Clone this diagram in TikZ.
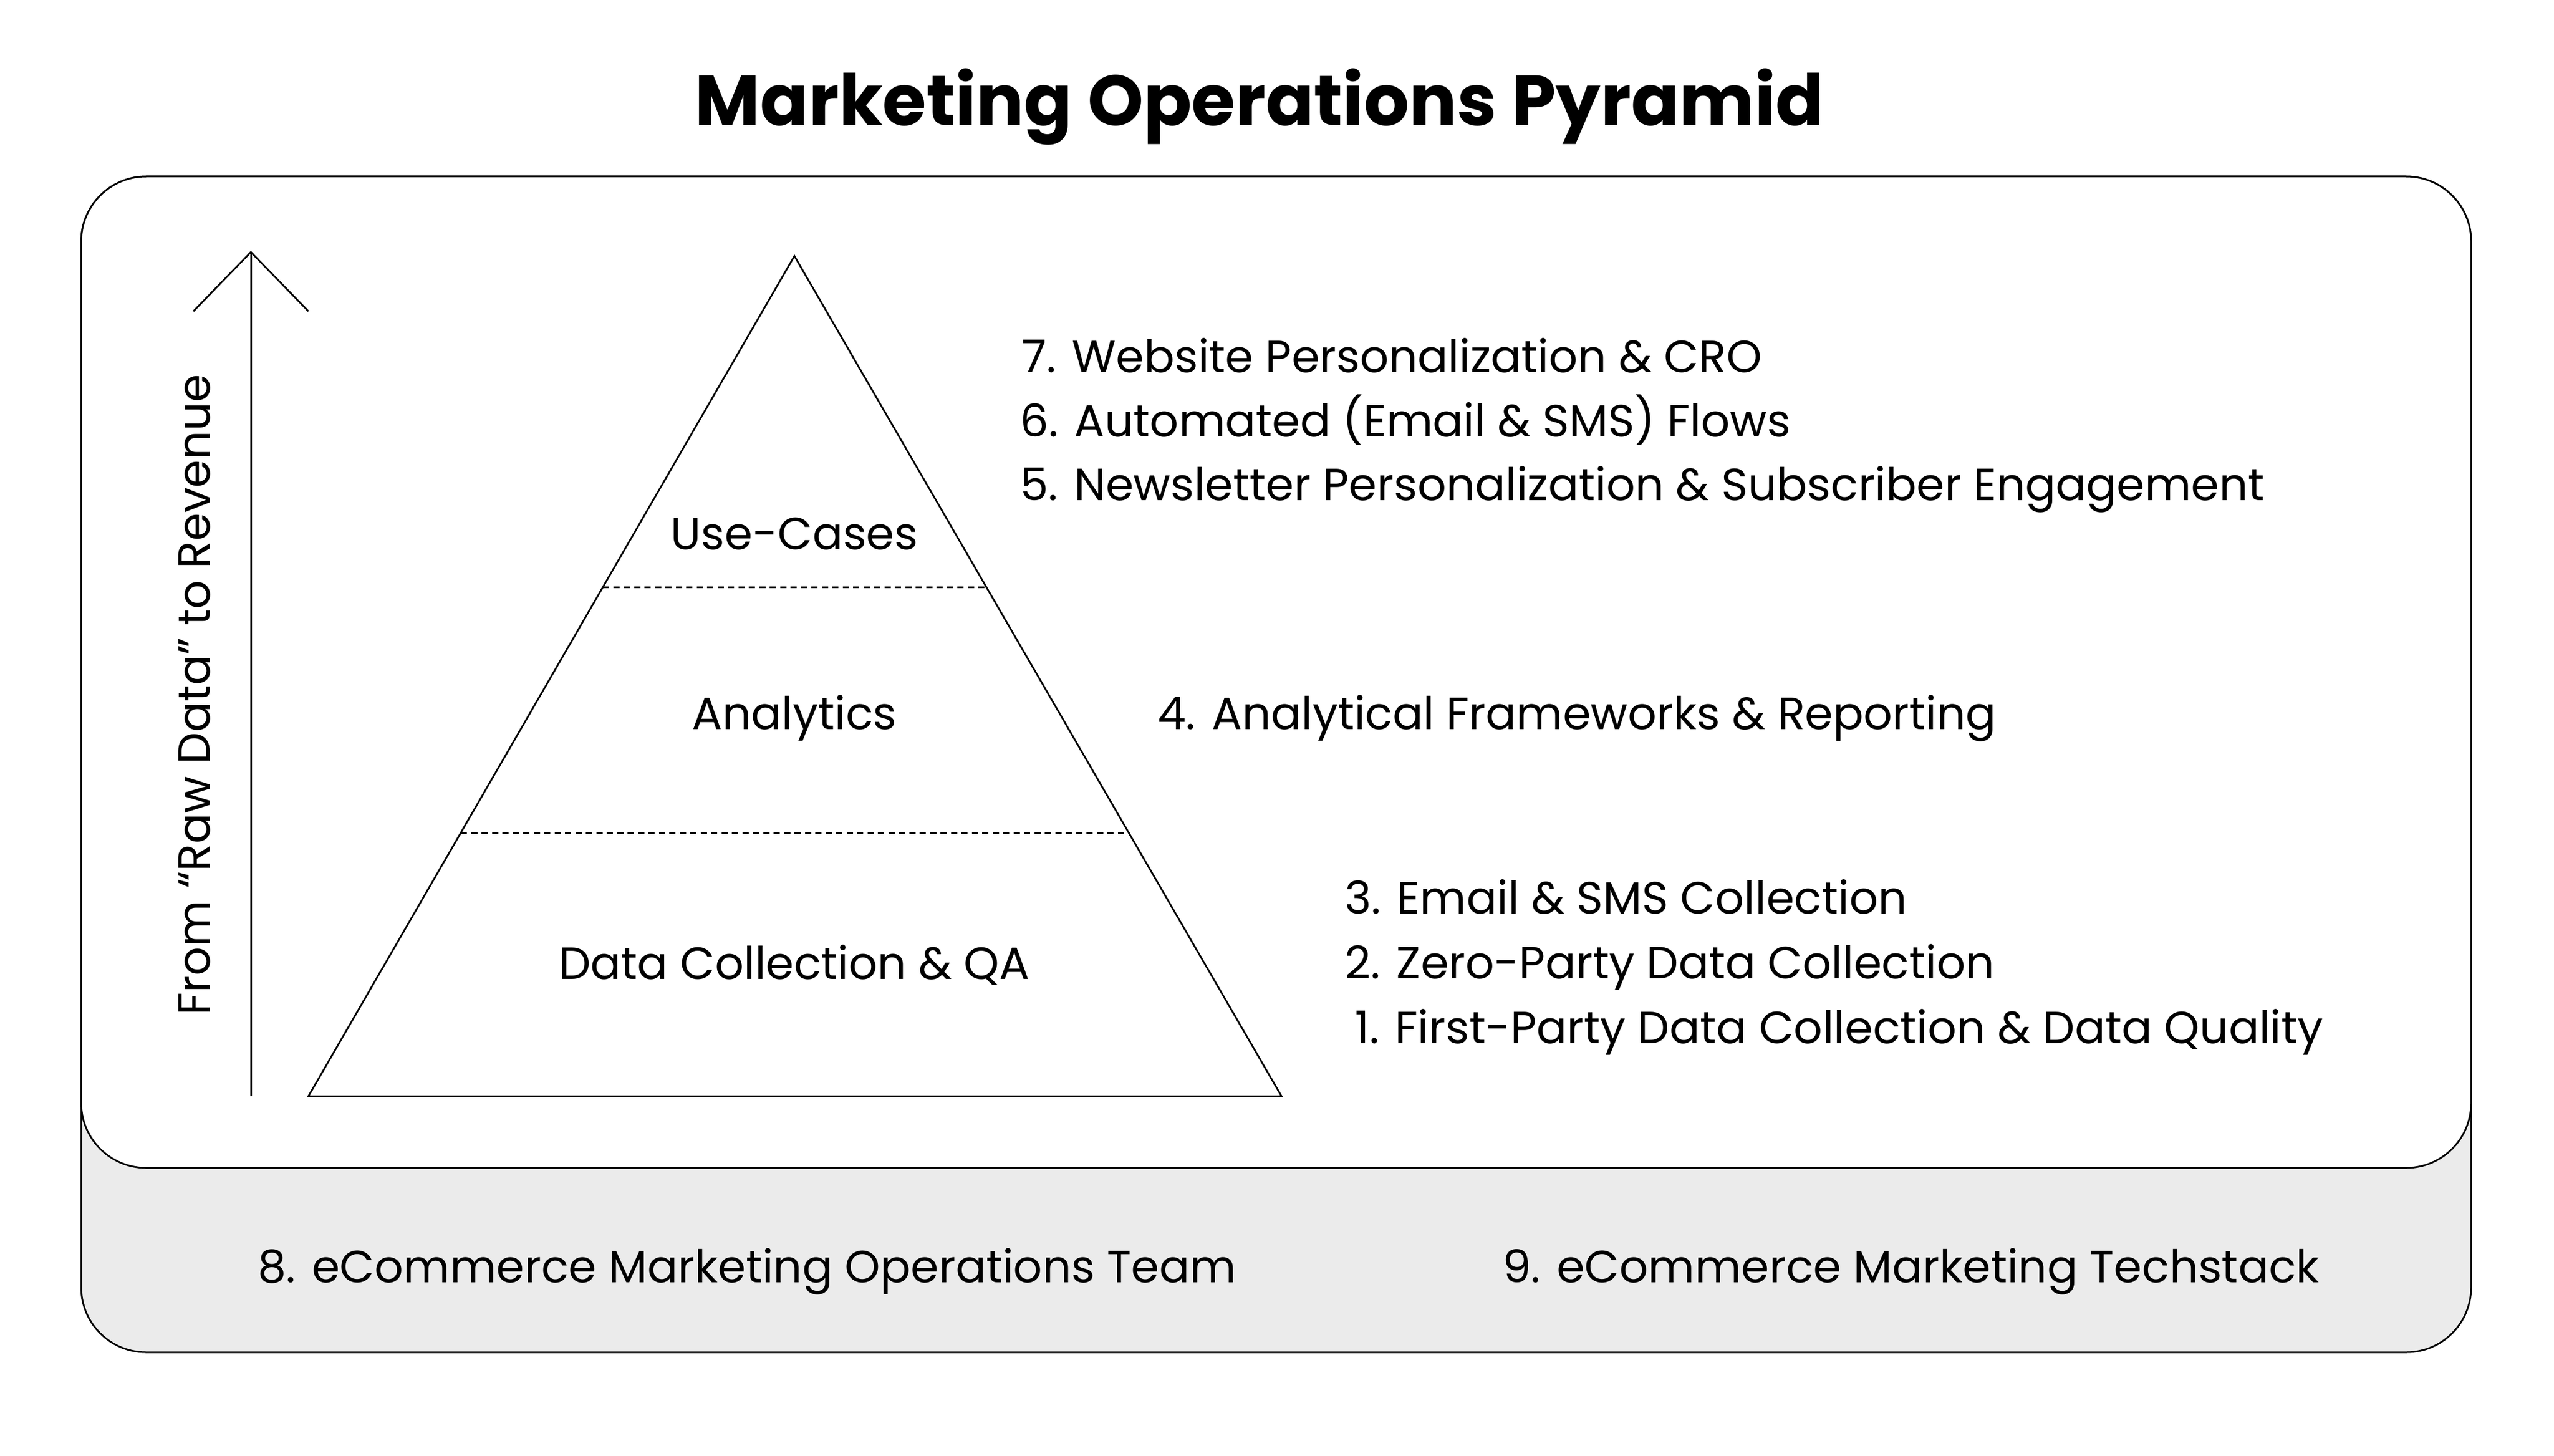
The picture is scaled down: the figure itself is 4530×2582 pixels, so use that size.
\documentclass[tikz,border=0pt]{standalone}
\usepackage{fontspec}
\setmainfont{Poppins}
\usetikzlibrary{calc}
\definecolor{basegray}{RGB}{235,235,235}
\begin{document}
\begin{tikzpicture}[x=1pt,y=-1pt,line width=3pt,
  txt/.style={font=\fontsize{80}{96}\selectfont, anchor=base, inner sep=0pt},
  txtl/.style={txt, anchor=base west},
  titletxt/.style={font=\fontsize{126}{150}\selectfont\bfseries, anchor=base, inner sep=0pt},
  layerline/.style={line width=3pt, dash pattern=on 11pt off 7.5pt},
  panel/.style={draw=black, rounded corners=115pt}]
\useasboundingbox (0,0) rectangle (4530,2582);
% panels
\draw[panel, fill=basegray] (144,313) rectangle (4383,2398);
\draw[panel, fill=white] (144,313) rectangle (4383,2071);
% title
\node[titletxt] (title) at (2234,223) {Marketing Operations Pyramid};
% arrow
\coordinate (arrowbase) at (445,1944);
\coordinate (arrowtip) at (445,447);
\coordinate (headl) at (343,552);
\coordinate (headr) at (547,552);
\draw (arrowbase) -- (arrowtip);
\draw[line join=miter] (headl) -- (arrowtip) -- (headr);
\node[txt, rotate=90] (axis) at (372,1232) {From “Raw Data” to Revenue};
% pyramid
\coordinate (apex) at (1409,454);
\coordinate (bl) at (547,1944);
\coordinate (br) at (2273,1944);
\draw[line join=miter] (apex) -- (bl) -- (br) -- cycle;
\draw[layerline] ($(apex)!0.394!(bl)$) -- ($(apex)!0.394!(br)$);
\draw[layerline] ($(apex)!0.6866!(bl)$) -- ($(apex)!0.6866!(br)$);
\node[txt] (usecases) at (1409,974) {Use-Cases};
\node[txt] (analytics) at (1409,1293) {Analytics};
\node[txt] (datacoll) at (1409,1736) {Data Collection \& QA};
% right texts
\node[txtl] (t7) at (1811,660) {7. Website Personalization \& CRO};
\node[txtl] (t6) at (1808,774) {6. Automated (Email \& SMS) Flows};
\node[txtl] (t5) at (1808,887) {5. Newsletter Personalization \& Subscriber Engagement};
\node[txtl] (t4) at (2052,1293) {4. Analytical Frameworks \& Reporting};
\node[txtl] (t3) at (2384,1620) {3. Email \& SMS Collection};
\node[txtl] (t2) at (2384,1735) {2. Zero-Party Data Collection};
\node[txtl] (t1) at (2402,1850) {1. First-Party Data Collection \& Data Quality};
% bottom texts
\node[txtl] (t8) at (456,2274) {8. eCommerce Marketing Operations Team};
\node[txtl] (t9) at (2664,2274) {9. eCommerce Marketing Techstack};
\end{tikzpicture}
\end{document}
